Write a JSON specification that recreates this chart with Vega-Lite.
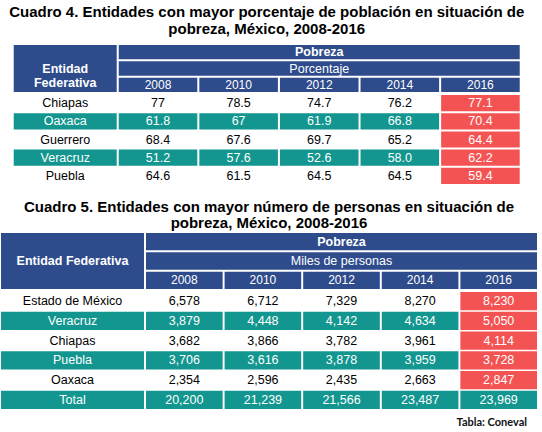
{
  "$schema": "https://vega.github.io/schema/vega-lite/v6.json",
  "padding": {"left": 1, "top": 5, "right": 4, "bottom": 4},
  "background": "white",
  "config": {
    "view": {"stroke": null},
    "text": {"font": "Liberation Sans"},
    "title": {"font": "Liberation Sans", "color": "black"}
  },
  "datasets": {
    "h1": [
      {"fila": "Pobreza", "texto": "Pobreza"},
      {"fila": "Porcentaje", "texto": "Porcentaje"},
      {"fila": "Año", "texto": "2008"},
      {"fila": "Año", "texto": "2010"},
      {"fila": "Año", "texto": "2012"},
      {"fila": "Año", "texto": "2014"},
      {"fila": "Año", "texto": "2016"}
    ],
    "h2": [
      {"fila": "Pobreza", "texto": "Pobreza"},
      {"fila": "Miles", "texto": "Miles de personas"},
      {"fila": "Año", "texto": "2008"},
      {"fila": "Año", "texto": "2010"},
      {"fila": "Año", "texto": "2012"},
      {"fila": "Año", "texto": "2014"},
      {"fila": "Año", "texto": "2016"}
    ],
    "t1": [
      {"entidad": "Chiapas", "anio": "2008", "valor": "77"},
      {"entidad": "Chiapas", "anio": "2010", "valor": "78.5"},
      {"entidad": "Chiapas", "anio": "2012", "valor": "74.7"},
      {"entidad": "Chiapas", "anio": "2014", "valor": "76.2"},
      {"entidad": "Chiapas", "anio": "2016", "valor": "77.1"},
      {"entidad": "Oaxaca", "anio": "2008", "valor": "61.8"},
      {"entidad": "Oaxaca", "anio": "2010", "valor": "67"},
      {"entidad": "Oaxaca", "anio": "2012", "valor": "61.9"},
      {"entidad": "Oaxaca", "anio": "2014", "valor": "66.8"},
      {"entidad": "Oaxaca", "anio": "2016", "valor": "70.4"},
      {"entidad": "Guerrero", "anio": "2008", "valor": "68.4"},
      {"entidad": "Guerrero", "anio": "2010", "valor": "67.6"},
      {"entidad": "Guerrero", "anio": "2012", "valor": "69.7"},
      {"entidad": "Guerrero", "anio": "2014", "valor": "65.2"},
      {"entidad": "Guerrero", "anio": "2016", "valor": "64.4"},
      {"entidad": "Veracruz", "anio": "2008", "valor": "51.2"},
      {"entidad": "Veracruz", "anio": "2010", "valor": "57.6"},
      {"entidad": "Veracruz", "anio": "2012", "valor": "52.6"},
      {"entidad": "Veracruz", "anio": "2014", "valor": "58.0"},
      {"entidad": "Veracruz", "anio": "2016", "valor": "62.2"},
      {"entidad": "Puebla", "anio": "2008", "valor": "64.6"},
      {"entidad": "Puebla", "anio": "2010", "valor": "61.5"},
      {"entidad": "Puebla", "anio": "2012", "valor": "64.5"},
      {"entidad": "Puebla", "anio": "2014", "valor": "64.5"},
      {"entidad": "Puebla", "anio": "2016", "valor": "59.4"}
    ],
    "t2": [
      {"entidad": "Estado de México", "anio": "2008", "valor": 6578},
      {"entidad": "Estado de México", "anio": "2010", "valor": 6712},
      {"entidad": "Estado de México", "anio": "2012", "valor": 7329},
      {"entidad": "Estado de México", "anio": "2014", "valor": 8270},
      {"entidad": "Estado de México", "anio": "2016", "valor": 8230},
      {"entidad": "Veracruz", "anio": "2008", "valor": 3879},
      {"entidad": "Veracruz", "anio": "2010", "valor": 4448},
      {"entidad": "Veracruz", "anio": "2012", "valor": 4142},
      {"entidad": "Veracruz", "anio": "2014", "valor": 4634},
      {"entidad": "Veracruz", "anio": "2016", "valor": 5050},
      {"entidad": "Chiapas", "anio": "2008", "valor": 3682},
      {"entidad": "Chiapas", "anio": "2010", "valor": 3866},
      {"entidad": "Chiapas", "anio": "2012", "valor": 3782},
      {"entidad": "Chiapas", "anio": "2014", "valor": 3961},
      {"entidad": "Chiapas", "anio": "2016", "valor": 4114},
      {"entidad": "Puebla", "anio": "2008", "valor": 3706},
      {"entidad": "Puebla", "anio": "2010", "valor": 3616},
      {"entidad": "Puebla", "anio": "2012", "valor": 3878},
      {"entidad": "Puebla", "anio": "2014", "valor": 3959},
      {"entidad": "Puebla", "anio": "2016", "valor": 3728},
      {"entidad": "Oaxaca", "anio": "2008", "valor": 2354},
      {"entidad": "Oaxaca", "anio": "2010", "valor": 2596},
      {"entidad": "Oaxaca", "anio": "2012", "valor": 2435},
      {"entidad": "Oaxaca", "anio": "2014", "valor": 2663},
      {"entidad": "Oaxaca", "anio": "2016", "valor": 2847},
      {"entidad": "Total", "anio": "2008", "valor": 20200},
      {"entidad": "Total", "anio": "2010", "valor": 21239},
      {"entidad": "Total", "anio": "2012", "valor": 21566},
      {"entidad": "Total", "anio": "2014", "valor": 23487},
      {"entidad": "Total", "anio": "2016", "valor": 23969}
    ]
  },
  "title": {"text": "Tabla: Coneval", "orient": "bottom", "anchor": "end", "font": "Lato", "fontSize": 11, "fontWeight": "bold", "color": "#111111", "offset": 8, "dx": -10},
  "spacing": 16,
  "center": true,
  "vconcat": [
    {
      "title": {"text": ["Cuadro 4. Entidades con mayor porcentaje de población en situación de", "pobreza, México, 2008-2016"], "fontSize": 15, "fontWeight": "bold", "anchor": "middle", "offset": 8, "lineHeight": 17},
      "spacing": 2,
      "vconcat": [
        {
          "spacing": 2,
          "hconcat": [
            {
              "width": 103, "height": 47,
              "data": {"values": [{"texto": "Entidad\nFederativa"}]},
              "layer": [
                {"mark": {"type": "rect", "color": "#2E4B8C"}, "encoding": {}},
                {"mark": {"type": "text", "color": "white", "fontWeight": "bold", "fontSize": 12.5, "lineBreak": "\n", "lineHeight": 14}, "encoding": {"text": {"field": "texto"}}}
              ]
            },
            {
              "width": 401, "height": 47,
              "data": {"name": "h1"},
              "encoding": {"y": {"field": "fila", "type": "nominal", "axis": null, "scale": {"domain": ["Pobreza", "Porcentaje", "Año"], "paddingInner": 0.122, "paddingOuter": 0}}},
              "layer": [
                {"transform": [{"filter": "datum.fila !== 'Año'"}], "mark": {"type": "rect", "color": "#2E4B8C"}, "encoding": {}},
                {"transform": [{"filter": "datum.fila === 'Año'"}], "mark": {"type": "rect", "color": "#2E4B8C"}, "encoding": {"x": {"field": "texto", "type": "nominal", "axis": null, "scale": {"paddingInner": 0.025, "paddingOuter": 0}}}},
                {"transform": [{"filter": "datum.fila === 'Pobreza'"}], "mark": {"type": "text", "color": "white", "fontSize": 12.5, "fontWeight": "bold"}, "encoding": {"text": {"field": "texto"}}},
                {"transform": [{"filter": "datum.fila === 'Porcentaje'"}], "mark": {"type": "text", "color": "white", "fontSize": 12.5}, "encoding": {"text": {"field": "texto"}}},
                {"transform": [{"filter": "datum.fila === 'Año'"}], "mark": {"type": "text", "color": "white", "fontSize": 12}, "encoding": {"x": {"field": "texto", "type": "nominal", "axis": null}, "text": {"field": "texto"}}}
              ]
            }
          ]
        },
        {
          "spacing": 2,
          "hconcat": [
            {
              "width": 103, "height": 89,
              "data": {"name": "t1"},
              "transform": [{"filter": "datum.anio === '2008'"}],
              "encoding": {"y": {"field": "entidad", "type": "nominal", "axis": null, "scale": {"domain": ["Chiapas", "Oaxaca", "Guerrero", "Veracruz", "Puebla"], "paddingInner": 0.111, "paddingOuter": 0}}},
              "layer": [
                {"mark": {"type": "rect"}, "encoding": {"fill": {"condition": {"test": "indexof(['Oaxaca','Veracruz'], datum.entidad) >= 0", "value": "#12968F"}, "value": "white"}}},
                {"mark": {"type": "text", "fontSize": 12.5}, "encoding": {"text": {"field": "entidad"}, "color": {"condition": {"test": "indexof(['Oaxaca','Veracruz'], datum.entidad) >= 0", "value": "white"}, "value": "black"}}}
              ]
            },
            {
              "width": 401, "height": 89,
              "data": {"name": "t1"},
              "encoding": {
                "x": {"field": "anio", "type": "nominal", "axis": null, "scale": {"paddingInner": 0.025, "paddingOuter": 0}},
                "y": {"field": "entidad", "type": "nominal", "axis": null, "scale": {"domain": ["Chiapas", "Oaxaca", "Guerrero", "Veracruz", "Puebla"], "paddingInner": 0.111, "paddingOuter": 0}}
              },
              "layer": [
                {"mark": {"type": "rect"}, "encoding": {"fill": {"condition": [{"test": "datum.anio === '2016'", "value": "#F45353"}, {"test": "indexof(['Oaxaca','Veracruz'], datum.entidad) >= 0", "value": "#12968F"}], "value": "white"}}},
                {"mark": {"type": "text", "fontSize": 12.5}, "encoding": {"text": {"field": "valor"}, "color": {"condition": {"test": "datum.anio === '2016' || indexof(['Oaxaca','Veracruz'], datum.entidad) >= 0", "value": "white"}, "value": "black"}}}
              ]
            }
          ]
        }
      ]
    },
    {
      "title": {"text": ["Cuadro 5. Entidades con mayor número de personas en situación de", "pobreza, México, 2008-2016"], "fontSize": 15, "fontWeight": "bold", "anchor": "middle", "offset": 2, "lineHeight": 16},
      "spacing": 1,
      "vconcat": [
        {
          "spacing": 2,
          "hconcat": [
            {
              "width": 143, "height": 56,
              "data": {"values": [{"texto": "Entidad Federativa"}]},
              "layer": [
                {"mark": {"type": "rect", "color": "#2E4B8C"}, "encoding": {}},
                {"mark": {"type": "text", "color": "white", "fontWeight": "bold", "fontSize": 12.5}, "encoding": {"text": {"field": "texto"}}}
              ]
            },
            {
              "width": 391, "height": 56,
              "data": {"name": "h2"},
              "encoding": {"y": {"field": "fila", "type": "nominal", "axis": null, "scale": {"domain": ["Pobreza", "Miles", "Año"], "paddingInner": 0.103, "paddingOuter": 0}}},
              "layer": [
                {"transform": [{"filter": "datum.fila !== 'Año'"}], "mark": {"type": "rect", "color": "#2E4B8C"}, "encoding": {}},
                {"transform": [{"filter": "datum.fila === 'Año'"}], "mark": {"type": "rect", "color": "#2E4B8C"}, "encoding": {"x": {"field": "texto", "type": "nominal", "axis": null, "scale": {"paddingInner": 0.025, "paddingOuter": 0}}}},
                {"transform": [{"filter": "datum.fila === 'Pobreza'"}], "mark": {"type": "text", "color": "white", "fontSize": 12.5, "fontWeight": "bold"}, "encoding": {"text": {"field": "texto"}}},
                {"transform": [{"filter": "datum.fila === 'Miles'"}], "mark": {"type": "text", "color": "white", "fontSize": 12.5}, "encoding": {"text": {"field": "texto"}}},
                {"transform": [{"filter": "datum.fila === 'Año'"}], "mark": {"type": "text", "color": "white", "fontSize": 12}, "encoding": {"x": {"field": "texto", "type": "nominal", "axis": null}, "text": {"field": "texto"}}}
              ]
            }
          ]
        },
        {
          "spacing": 2,
          "hconcat": [
            {
              "width": 143, "height": 117,
              "data": {"name": "t2"},
              "transform": [{"filter": "datum.anio === '2008'"}],
              "encoding": {"y": {"field": "entidad", "type": "nominal", "axis": null, "scale": {"domain": ["Estado de México", "Veracruz", "Chiapas", "Puebla", "Oaxaca", "Total"], "paddingInner": 0.076, "paddingOuter": 0}}},
              "layer": [
                {"mark": {"type": "rect"}, "encoding": {"fill": {"condition": {"test": "indexof(['Veracruz','Puebla','Total'], datum.entidad) >= 0", "value": "#12968F"}, "value": "white"}}},
                {"mark": {"type": "text", "fontSize": 12.5}, "encoding": {"text": {"field": "entidad"}, "color": {"condition": {"test": "indexof(['Veracruz','Puebla','Total'], datum.entidad) >= 0", "value": "white"}, "value": "black"}}}
              ]
            },
            {
              "width": 391, "height": 117,
              "data": {"name": "t2"},
              "encoding": {
                "x": {"field": "anio", "type": "nominal", "axis": null, "scale": {"paddingInner": 0.025, "paddingOuter": 0}},
                "y": {"field": "entidad", "type": "nominal", "axis": null, "scale": {"domain": ["Estado de México", "Veracruz", "Chiapas", "Puebla", "Oaxaca", "Total"], "paddingInner": 0.076, "paddingOuter": 0}}
              },
              "layer": [
                {"mark": {"type": "rect"}, "encoding": {"fill": {"condition": [{"test": "datum.anio === '2016' && datum.entidad !== 'Total'", "value": "#F45353"}, {"test": "indexof(['Veracruz','Puebla','Total'], datum.entidad) >= 0", "value": "#12968F"}], "value": "white"}}},
                {"mark": {"type": "text", "fontSize": 12.5}, "encoding": {"text": {"field": "valor", "format": ","}, "color": {"condition": {"test": "datum.anio === '2016' || indexof(['Veracruz','Puebla','Total'], datum.entidad) >= 0", "value": "white"}, "value": "black"}}}
              ]
            }
          ]
        }
      ]
    }
  ]
}
